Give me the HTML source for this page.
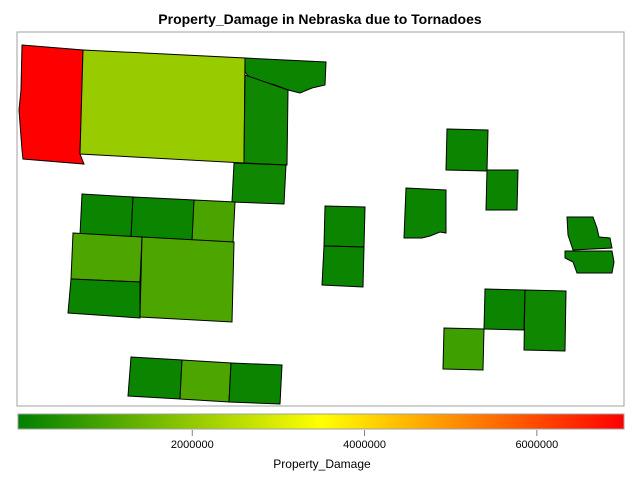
<!DOCTYPE html>
<html><head><meta charset="utf-8"><style>
body{margin:0;background:#fff;font-family:"Liberation Sans",sans-serif}
</style></head><body>
<svg id="chart" width="640" height="480" xmlns="http://www.w3.org/2000/svg">
<rect width="640" height="480" fill="#fff"/>
<text x="320" y="24" text-anchor="middle" font-size="14" font-weight="bold" font-family="Liberation Sans, sans-serif">Property_Damage in Nebraska due to Tornadoes</text>
<rect x="17" y="32" width="607" height="374" fill="none" stroke="#a0a0a0"/>
<g id="counties"></g>
<defs><linearGradient id="ramp" x1="0" x2="1" y1="0" y2="0">
<stop offset="0" stop-color="#008000"/><stop offset="0.5" stop-color="#ffff00"/><stop offset="1" stop-color="#ff0000"/></linearGradient></defs>
<rect x="18" y="414" width="606" height="15" fill="url(#ramp)" stroke="#a0a0a0"/>
<g id="legend"></g>
<text x="322" y="468" text-anchor="middle" font-size="12" font-family="Liberation Sans, sans-serif">Property_Damage</text>
</svg>
<script>
const countyNames=["nw-red","north-big","north-east-top","north-east-strip","mid-north","row1-a","row1-b","row1-c","row2-a","row2-b","row3-a","south-a","south-b","south-c","center-a","center-b","east-a","east-b","east-c","se-a","se-b","se-c","ne-river-1","ne-river-2"];
const countyValues=[7000000,2100000,150000,200000,200000,150000,150000,1000000,1050000,1050000,150000,150000,1050000,150000,150000,150000,150000,150000,150000,150000,200000,850000,150000,150000];
const legendTicks=[2000000,4000000,6000000];
const vMin=0, vMax=7000000;
const shapes=[
[[22,45],[83,50],[80,154],[84,164],[23,159],[22,150],[19,110],[21,90]],
[[83,50],[245,58],[244,163],[80,154]],
[[245,58],[326,62],[325,85],[312,88],[300,93],[288,90],[275,85],[250,78],[245,72]],
[[245,75],[288,90],[287,165],[244,163]],
[[234,163],[286,165],[284,204],[232,202]],
[[82,194],[133,197],[131,238],[80,235]],
[[133,197],[194,200],[193,240],[131,238]],
[[194,200],[235,202],[233,243],[192,241]],
[[73,233],[142,237],[140,282],[71,279]],
[[142,237],[234,242],[232,322],[140,317]],
[[71,279],[140,282],[140,318],[68,313]],
[[131,357],[182,360],[180,399],[128,396]],
[[182,360],[231,363],[229,402],[180,399]],
[[231,363],[282,365],[280,404],[229,402]],
[[325,206],[365,207],[364,247],[324,246]],
[[324,246],[364,247],[363,287],[322,285]],
[[406,188],[446,190],[446,233],[440,232],[430,236],[422,238],[404,238]],
[[447,129],[488,130],[487,171],[446,170]],
[[487,170],[518,170],[517,210],[486,210]],
[[485,289],[525,290],[524,330],[484,329]],
[[525,290],[566,291],[565,351],[524,350]],
[[444,328],[484,329],[483,370],[443,369]],
[[567,217],[593,217],[597,228],[599,237],[610,238],[612,248],[573,250],[568,235]],
[[565,251],[612,251],[614,262],[612,273],[577,273],[573,262],[565,258]]
];
function colorOf(v){
  const t=(v-vMin)/(vMax-vMin);
  let r,g;
  if(t<0.5){const u=t/0.5;r=255*u;g=128+127*u;}else{const u=(t-0.5)/0.5;r=255;g=255*(1-u);}
  return `rgb(${Math.round(r)},${Math.round(g)},0)`;
}
const NS="http://www.w3.org/2000/svg";
const cg=document.getElementById('counties');
shapes.forEach((pts,i)=>{
  const p=document.createElementNS(NS,'polygon');
  p.setAttribute('points',pts.map(q=>q.join(',')).join(' '));
  p.setAttribute('fill',colorOf(countyValues[i]));
  p.setAttribute('stroke','#000');
  p.setAttribute('stroke-width','1');
  
  
  cg.appendChild(p);
});
const lg=document.getElementById('legend');
const x0=20,x1=623;
function lx(v){return x0+(v-vMin)/(vMax-vMin)*(x1-x0);}
legendTicks.forEach(v=>{
  const x=lx(v);
  const l=document.createElementNS(NS,'line');
  l.setAttribute('x1',x);l.setAttribute('x2',x);l.setAttribute('y1',430);l.setAttribute('y2',436);
  l.setAttribute('stroke','#808080');
  
  
  lg.appendChild(l);
  const t=document.createElementNS(NS,'text');
  t.setAttribute('x',x);t.setAttribute('y',448);t.setAttribute('text-anchor','middle');
  t.setAttribute('font-size','11');t.setAttribute('font-family','Liberation Sans, sans-serif');
  t.textContent=String(v);
  
  
  lg.appendChild(t);
});
</script>
</body></html>
